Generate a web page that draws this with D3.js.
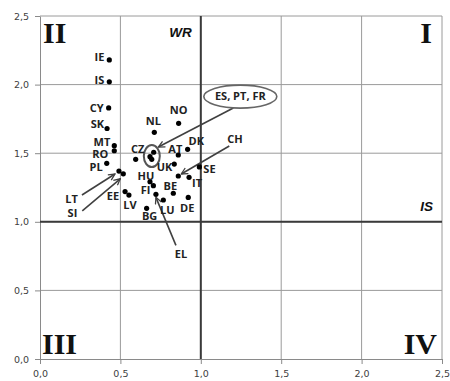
<!DOCTYPE html>
<html>
<head>
<meta charset="utf-8">
<script src="https://cdn.jsdelivr.net/npm/d3@7/dist/d3.min.js"></script>
<style>
  html, body { margin: 0; padding: 0; background: #fff; }
  svg { display: block; }
</style>
</head>
<body>
<svg id="chart" width="450" height="381"></svg>
<script>
// Country codes and their two indices (x = IS, y = WR)
const countries = ["IE","IS","CY","SK","MT","RO","PL","LT","SI","NO","NL","DK","AT","ES","PT","FR","CZ","UK","SE","CH","IT","HU","FI","BE","EL","EE","LV","LU","DE","BG"];
const isValues  = [0.431,0.431,0.427,0.417,0.462,0.462,0.415,0.491,0.518,0.862,0.711,0.918,0.860,0.707,0.684,0.695,0.595,0.835,0.991,0.860,0.927,0.684,0.705,0.829,0.721,0.529,0.553,0.767,0.922,0.663];
const wrValues  = [2.180,2.020,1.830,1.680,1.555,1.518,1.426,1.370,1.350,1.718,1.652,1.528,1.487,1.507,1.475,1.455,1.455,1.421,1.400,1.334,1.324,1.292,1.263,1.208,1.200,1.220,1.195,1.159,1.178,1.098];
const tickValues = [0, 0.5, 1.0, 1.5, 2.0, 2.5];
const quadrantNames = ["I", "II", "III", "IV"];
const groupedCountries = ["ES", "PT", "FR"];

// Label placement (pixels from the dot): anchor, dx, dy (dy to text middle)
const labelPlace = {
  IE:["end",-5,-3], IS:["end",-5,-2], CY:["end",-5,0], SK:["end",-3,-4],
  MT:["end",-4,-4], RO:["end",-6,3], PL:["end",-4,4],
  LT:["end",-41,28], SI:["end",-46,39],
  NO:["middle",0,-13], NL:["middle",-1,-11], DK:["start",1,-8], AT:["middle",-3,-6],
  CZ:["middle",2,-10], UK:["end",-2,3], SE:["start",4,2], CH:["start",49,-37],
  IT:["start",3,6], HU:["middle",-4,-6], FI:["end",-3,4], BE:["middle",-3,-7],
  EE:["end",-6,5], LV:["middle",1,10], LU:["middle",4,10], DE:["middle",-1,11],
  BG:["middle",3,8], EL:["middle",25,60]
};
// Pointer arrows: tail and tip offsets from the dot
const arrowPlace = {
  LT:[[-37,24],[-4,3]], SI:[[-41,37],[-3,5]], CH:[[51,-30],[3,-2]], EL:[[20,51],[0,3]]
};

const svg = d3.select("#chart");
const plotLeft = 40, plotRight = 442, plotTop = 16, plotBottom = 359;
const x = d3.scaleLinear().domain([0, 2.5]).range([plotLeft, plotRight]);
const y = d3.scaleLinear().domain([0, 2.5]).range([plotBottom, plotTop]);
const fmt = v => d3.format(".1f")(v).replace(".", ",");

// arrowhead marker
svg.append("defs").append("marker")
  .attr("id", "arrow").attr("viewBox", "0 0 10 10")
  .attr("refX", 9).attr("refY", 5)
  .attr("markerWidth", 8).attr("markerHeight", 8)
  .attr("markerUnits", "userSpaceOnUse")
  .attr("orient", "auto")
  .append("path").attr("d", "M1,1 L9,5 L1,9")
  .attr("fill", "none").attr("stroke", "#404040").attr("stroke-width", 1.6);

// grid
const grid = svg.append("g");
grid.selectAll("line.v").data(tickValues.slice(1)).join("line")
  .attr("x1", d => x(d)).attr("x2", d => x(d)).attr("y1", plotTop).attr("y2", plotBottom)
  .attr("stroke", "#9a9a9a").attr("stroke-width", 1);
grid.selectAll("line.h").data(tickValues.slice(1)).join("line")
  .attr("x1", plotLeft).attr("x2", plotRight).attr("y1", d => y(d)).attr("y2", d => y(d))
  .attr("stroke", "#9a9a9a").attr("stroke-width", 1);

// axes
const yAxis = svg.append("g").attr("transform", `translate(${plotLeft},0)`)
  .call(d3.axisLeft(y).tickValues(tickValues).tickFormat(fmt).tickSize(5).tickSizeOuter(0).tickPadding(6));
const xAxis = svg.append("g").attr("transform", `translate(0,${plotBottom})`)
  .call(d3.axisBottom(x).tickValues(tickValues).tickFormat(fmt).tickSize(5).tickSizeOuter(0).tickPadding(6));
[xAxis, yAxis].forEach(a => {
  a.select(".domain").attr("stroke", "#8a8a8a");
  a.selectAll(".tick line").attr("stroke", "#8a8a8a");
  a.selectAll(".tick text").attr("fill", "#404040")
    .style("font-family", "'DejaVu Sans', Verdana, sans-serif").style("font-size", "9.5px");
});

// quadrant dividers at 1,0
svg.append("line").attr("x1", x(1)).attr("x2", x(1)).attr("y1", plotTop).attr("y2", plotBottom)
  .attr("stroke", "#3a3a3a").attr("stroke-width", 2);
svg.append("line").attr("x1", plotLeft).attr("x2", plotRight).attr("y1", y(1)).attr("y2", y(1))
  .attr("stroke", "#3a3a3a").attr("stroke-width", 2);

// quadrant numerals
const roman = svg.append("g").style("font-family", "'Liberation Serif', 'Times New Roman', serif")
  .style("font-weight", "bold").style("font-size", "30px").attr("fill", "#111");
roman.append("text").attr("x", plotRight - 10).attr("y", plotTop + 27).attr("text-anchor", "end").text(quadrantNames[0]);
roman.append("text").attr("x", plotLeft + 3).attr("y", plotTop + 27).text(quadrantNames[1]);
roman.append("text").attr("x", plotLeft + 2).attr("y", plotBottom - 5).text(quadrantNames[2]);
roman.append("text").attr("x", plotRight - 5).attr("y", plotBottom - 5).attr("text-anchor", "end").text(quadrantNames[3]);

// axis names
const axName = svg.append("g").style("font-family", "'Liberation Sans', Arial, sans-serif")
  .style("font-weight", "bold").style("font-style", "italic").style("font-size", "13.5px").attr("fill", "#111");
axName.append("text").attr("x", x(1) - 9).attr("y", plotTop + 21).attr("text-anchor", "end").text("WR");
axName.append("text").attr("x", plotRight - 9).attr("y", y(1) - 11).attr("text-anchor", "end").text("IS");

const pts = countries.map((c, i) => ({ c, px: x(isValues[i]), py: y(wrValues[i]) }));
const byCode = Object.fromEntries(pts.map(p => [p.c, p]));

// arrows for displaced labels
const arrows = svg.append("g");
Object.entries(arrowPlace).forEach(([c, [tail, tip]]) => {
  const p = byCode[c];
  arrows.append("line")
    .attr("x1", p.px + tail[0]).attr("y1", p.py + tail[1])
    .attr("x2", p.px + tip[0]).attr("y2", p.py + tip[1])
    .attr("stroke", "#404040").attr("stroke-width", 1.6).attr("marker-end", "url(#arrow)");
});

// grouped countries: ring around the dots, callout with names
const grp = groupedCountries.map(c => byCode[c]);
const gx = d3.mean(grp, p => p.px), gy = d3.mean(grp, p => p.py);
svg.append("ellipse").attr("cx", gx).attr("cy", gy).attr("rx", 8).attr("ry", 11)
  .attr("fill", "none").attr("stroke", "#555").attr("stroke-width", 2);
svg.append("line").attr("x1", gx + 81.5).attr("y1", gy - 48).attr("x2", gx + 6.5).attr("y2", gy - 9)
  .attr("stroke", "#404040").attr("stroke-width", 1.6).attr("marker-end", "url(#arrow)");
svg.append("ellipse").attr("cx", gx + 88.5).attr("cy", gy - 59.5).attr("rx", 36.5).attr("ry", 11.5)
  .attr("fill", "#fff").attr("stroke", "#666").attr("stroke-width", 1.6);
svg.append("text").attr("x", gx + 88.5).attr("y", gy - 59.5).attr("dy", "0.35em")
  .attr("text-anchor", "middle").attr("fill", "#222")
  .style("font-family", "'Open Sans', sans-serif").style("font-weight", "bold").style("font-size", "11px")
  .text(groupedCountries.join(", "));

// dots
svg.append("g").selectAll("circle").data(pts).join("circle")
  .attr("cx", d => d.px).attr("cy", d => d.py).attr("r", 2.6).attr("fill", "#000");

// country labels
svg.append("g").selectAll("text").data(pts.filter(p => labelPlace[p.c])).join("text")
  .attr("x", d => d.px + labelPlace[d.c][1])
  .attr("y", d => d.py + labelPlace[d.c][2])
  .attr("dy", "0.35em")
  .attr("text-anchor", d => labelPlace[d.c][0])
  .attr("fill", "#222")
  .style("font-family", "'Open Sans', sans-serif").style("font-weight", "bold").style("font-size", "11px")
  .text(d => d.c);
</script>
</body>
</html>
